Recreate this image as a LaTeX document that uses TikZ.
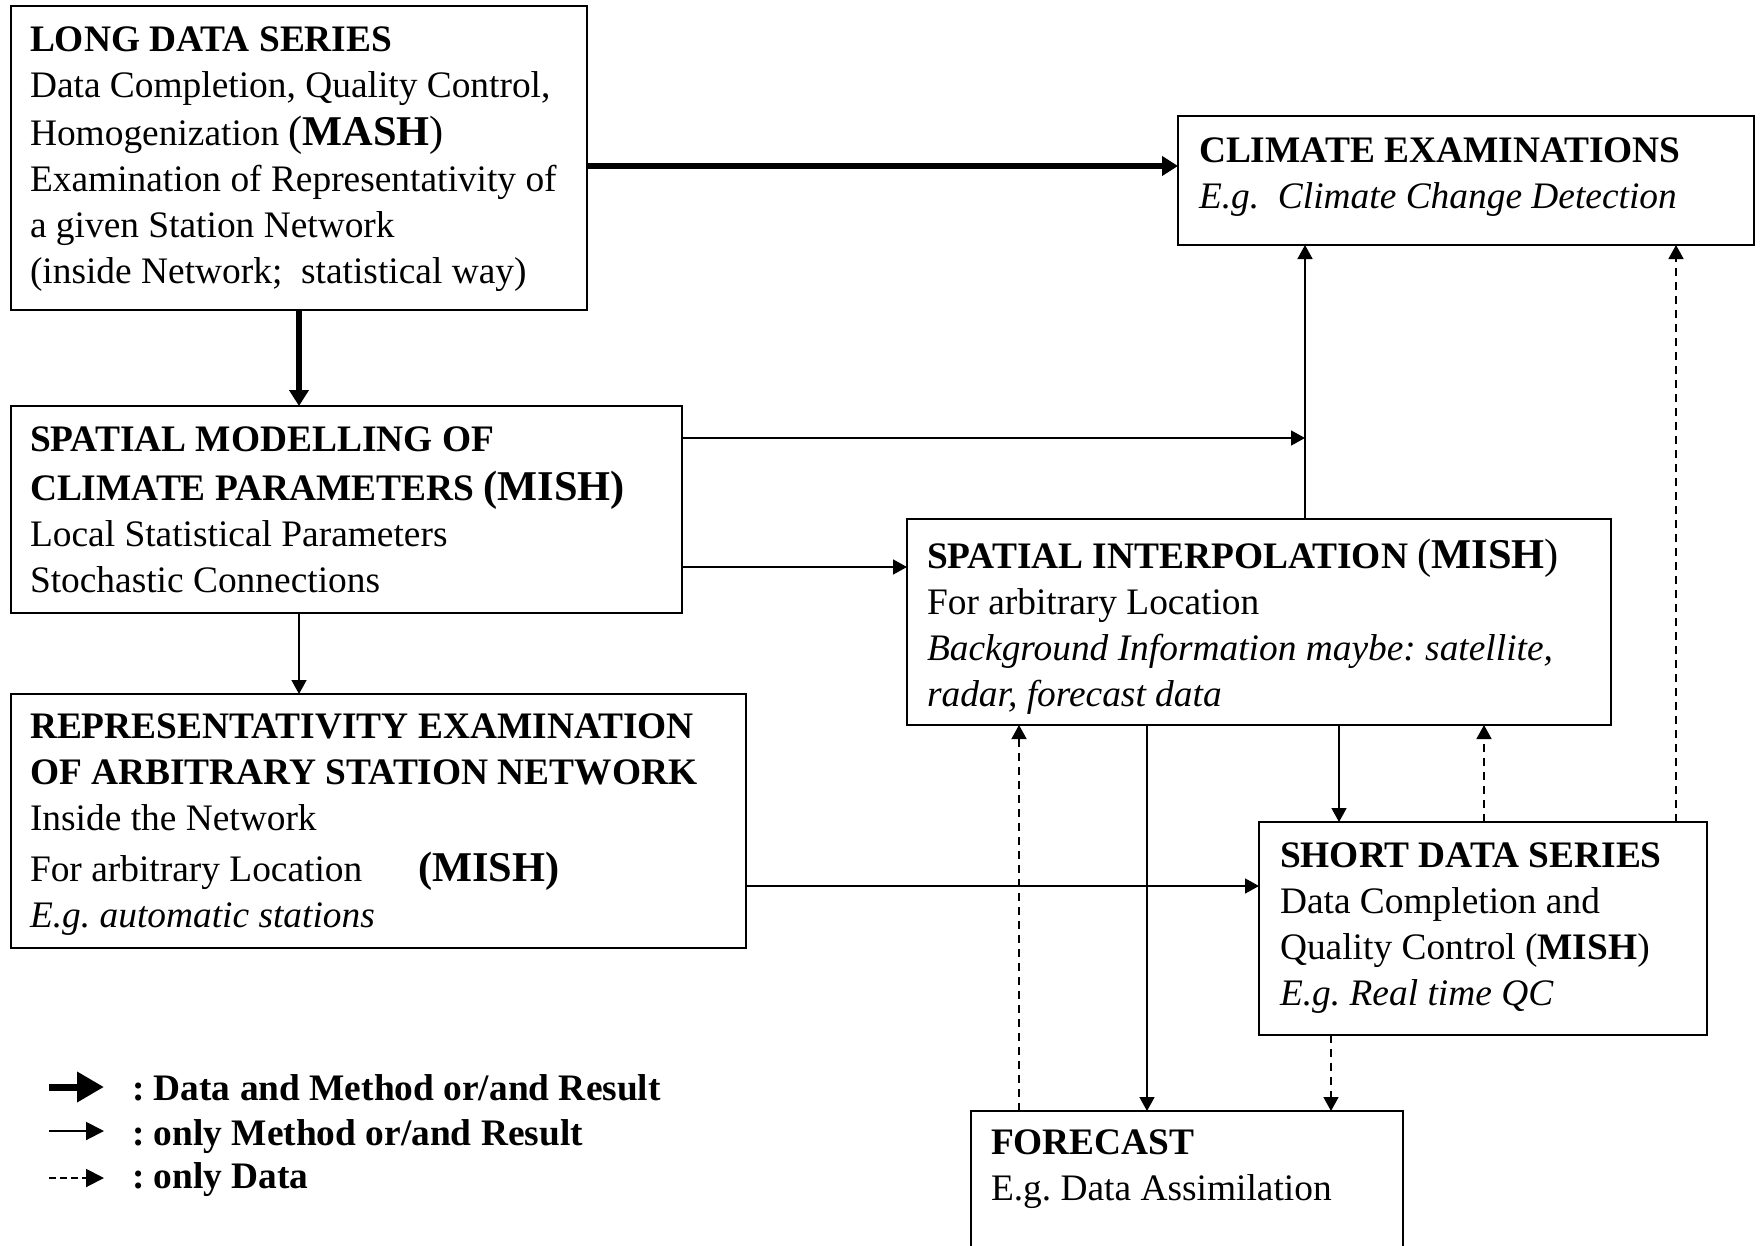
\documentclass[tikz,border=0pt]{standalone}
\usepackage{fontspec}
\setmainfont{Liberation Serif}
\usetikzlibrary{arrows.meta}
\newcommand\nf{\fontsize{18.7}{23}\selectfont\frenchspacing}
\newcommand\mishsize{\fontsize{21.2}{23}\selectfont}
\tikzset{
  box/.style={draw, line width=1pt, inner sep=0pt, outer sep=0pt, anchor=north west},
  txt/.style={inner sep=0pt, outer sep=0pt, anchor=north west, align=left, font=\nf},
  legtxt/.style={inner sep=0pt, outer sep=0pt, anchor=base west, font=\nf\bfseries},
  thinarr/.style={line width=0.75pt, -{Triangle[length=7pt,width=7.5pt]}},
  thickarr/.style={line width=3.25pt, -{Triangle[length=8pt,width=9.5pt]}},
  dasharr/.style={line width=0.75pt, dash pattern=on 4pt off 3pt, -{Triangle[length=7pt,width=7.5pt]}},
}
\begin{document}
\begin{tikzpicture}[x=0.5pt,y=-0.5pt]
\useasboundingbox (0,0) rectangle (1760,1246);
\clip (0,0) rectangle (1760,1246);
\fill[white] (0,0) rectangle (1760,1246);

% boxes
\node[box, minimum width=288pt, minimum height=152pt] (b1) at (11,6) {};
\node[box, minimum width=288pt, minimum height=64.5pt] (b2) at (1178,116) {};
\node[box, minimum width=335.5pt, minimum height=103.5pt] (b3) at (11,406) {};
\node[box, minimum width=352pt, minimum height=103pt] (b4) at (907,519) {};
\node[box, minimum width=367.5pt, minimum height=127pt] (b5) at (11,694) {};
\node[box, minimum width=224pt, minimum height=106.5pt] (b6) at (1259,822) {};
\node[box, minimum width=216pt, minimum height=110pt] (b7) at (971,1111) {};

% texts
\node[txt] (t1) at (30,19.8) {\strut\textbf{LONG DATA SERIES}\\
Data Completion, Quality Control,\\[1pt]
Homogenization {\mishsize(\textbf{MASH})}\\
Examination of Representativity of\\
a given Station Network\\
(inside Network;\ \ statistical way)};

\node[txt] (t2) at (1199,130.8) {\strut\textbf{CLIMATE EXAMINATIONS}\\
\textit{E.g.\ \ Climate Change Detection}};

\node[txt] (t3) at (30,418.8) {\strut\textbf{SPATIAL MODELLING OF}\\[1.5pt]
\textbf{CLIMATE PARAMETERS {\mishsize(MISH)}}\\
Local Statistical Parameters\\
Stochastic Connections};

\node[txt] (t4) at (927,535.8) {\strut\textbf{SPATIAL INTERPOLATION }{\mishsize(\textbf{MISH})}\\
For arbitrary Location\\
\textit{Background Information maybe: satellite,}\\
\textit{radar, forecast data}};

\node[txt] (t5) at (30,705.8) {\strut\textbf{REPRESENTATIVITY EXAMINATION}\\
\textbf{OF ARBITRARY STATION NETWORK}\\
Inside the Network\\[2.5pt]
\makebox[194pt][l]{For arbitrary Location}{\mishsize\textbf{(MISH)}}\\
\textit{E.g. automatic stations}};

\node[txt] (t6) at (1280,834.8) {\strut\textbf{SHORT DATA SERIES}\\
Data Completion and\\
Quality Control (\textbf{MISH})\\
\textit{E.g. Real time QC}};

\node[txt] (t7) at (991,1121.8) {\strut\textbf{FORECAST}\\
E.g. Data Assimilation};

% connectors
\coordinate (jn) at (1305,438);
\draw[thickarr] (b1.east |- 0,166) -- (b2.west |- 0,166);
\draw[thickarr] (b1.south -| 299,0) -- (b3.north -| 299,0);
\draw[thinarr] (b3.east |- 0,438) -- (jn);
\draw[thinarr] (b4.north -| 1305,0) -- (b2.south -| 1305,0);
\draw[thinarr] (b3.east |- 0,567) -- (b4.west |- 0,567);
\draw[thinarr] (b3.south -| 299,0) -- (b5.north -| 299,0);
\draw[thinarr] (b5.east |- 0,886) -- (b6.west |- 0,886);
\draw[thinarr] (b4.south -| 1147,0) -- (b7.north -| 1147,0);
\draw[thinarr] (b4.south -| 1339,0) -- (b6.north -| 1339,0);
\draw[dasharr] (b7.north -| 1019,0) -- (b4.south -| 1019,0);
\draw[dasharr] (b6.north -| 1484,0) -- (b4.south -| 1484,0);
\draw[dasharr] (b6.north -| 1676,0) -- (b2.south -| 1676,0);
\draw[dasharr] (b6.south -| 1331,0) -- (b7.north -| 1331,0);

% legend
\coordinate (la1) at (49,1087); \coordinate (lb1) at (104,1087);
\coordinate (la2) at (49,1131); \coordinate (lb2) at (104,1131);
\coordinate (la3) at (49,1178); \coordinate (lb3) at (104,1178);
\draw[line width=3.5pt, -{Triangle[length=13.5pt,width=14.5pt]}] (la1) -- (lb1);
\draw[line width=1pt, -{Triangle[length=9pt,width=9pt]}] (la2) -- (lb2);
\draw[line width=1pt, dash pattern=on 3.5pt off 2pt, -{Triangle[length=9pt,width=9pt]}] (la3) -- (lb3);
\node[legtxt] (l1) at (132,1100) {: Data and Method or/and Result};
\node[legtxt] (l2) at (132,1145) {: only Method or/and Result};
\node[legtxt] (l3) at (132,1188) {: only Data};
\end{tikzpicture}
\end{document}
